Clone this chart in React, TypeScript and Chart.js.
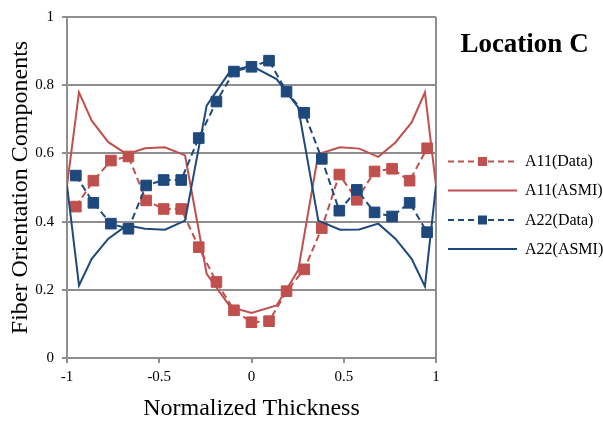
import React, { useEffect, useRef } from "react";
import { Chart, registerables } from "chart.js";

Chart.register(...registerables);

// ---- data ----
const dataX = [-0.952, -0.857, -0.762, -0.667, -0.571, -0.476, -0.381, -0.286, -0.19, -0.095, 0, 0.095, 0.19, 0.286, 0.381, 0.476, 0.571, 0.667, 0.762, 0.857, 0.952];
const a11Data = [0.444, 0.52, 0.579, 0.591, 0.462, 0.437, 0.437, 0.325, 0.223, 0.14, 0.105, 0.108, 0.196, 0.26, 0.381, 0.538, 0.464, 0.547, 0.555, 0.52, 0.615];
const a22Data = [0.535, 0.455, 0.394, 0.379, 0.506, 0.522, 0.522, 0.645, 0.752, 0.84, 0.854, 0.872, 0.781, 0.719, 0.584, 0.432, 0.493, 0.427, 0.415, 0.455, 0.369];
const asmiX = [-1, -0.935, -0.866, -0.776, -0.676, -0.577, -0.469, -0.36, -0.243, -0.115, 0, 0.136, 0.253, 0.362, 0.48, 0.584, 0.687, 0.78, 0.868, 0.94, 1];
const a11Asmi = [0.506, 0.779, 0.696, 0.633, 0.598, 0.615, 0.618, 0.594, 0.247, 0.15, 0.132, 0.154, 0.257, 0.598, 0.618, 0.614, 0.59, 0.632, 0.691, 0.779, 0.506];
const a22Asmi = [0.506, 0.213, 0.291, 0.35, 0.389, 0.379, 0.376, 0.403, 0.74, 0.842, 0.857, 0.818, 0.735, 0.403, 0.376, 0.377, 0.394, 0.35, 0.291, 0.21, 0.506];
const seriesNames = ["A11(Data)", "A11(ASMI)", "A22(Data)", "A22(ASMI)"];
const chartTitle = "Location C";
const xTitle = "Normalized Thickness";
const yTitle = "Fiber Orientation Components";

const RED = "#C0504D";
const BLUE = "#1F497D";
const GRID = "#8e8e8e";
const SERIF = "'Times New Roman', 'Liberation Serif', serif";
const DASH = [7, 4];

const pts = (xs: number[], ys: number[]) => xs.map((x, i) => ({ x, y: ys[i] }));

const overlayPlugin = {
  id: "overlay",
  afterDraw(chart: any) {
    const ctx = chart.ctx as CanvasRenderingContext2D;
    ctx.save();
    ctx.fillStyle = "#000";
    ctx.font = `bold 27px ${SERIF}`;
    ctx.textAlign = "center";
    ctx.textBaseline = "alphabetic";
    ctx.fillText(chartTitle, 524.5, 51.5);

    const items = [
      { color: RED, dashed: true },
      { color: RED, dashed: false },
      { color: BLUE, dashed: true },
      { color: BLUE, dashed: false },
    ];
    const ys = [161.5, 190.5, 220, 249];
    items.forEach((it, i) => {
      const y = ys[i];
      ctx.strokeStyle = it.color;
      ctx.lineWidth = 2;
      ctx.setLineDash(it.dashed ? [6, 4] : []);
      ctx.beginPath();
      ctx.moveTo(448, y);
      ctx.lineTo(517, y);
      ctx.stroke();
      ctx.setLineDash([]);
      if (it.dashed) {
        ctx.fillStyle = it.color;
        ctx.fillRect(482.5 - 4.5, y - 4.5, 9, 9);
      }
      ctx.fillStyle = "#000";
      ctx.font = `16px ${SERIF}`;
      ctx.textAlign = "left";
      ctx.textBaseline = "middle";
      ctx.fillText(seriesNames[i], 525, y + 0.5);
    });
    ctx.restore();
  },
};

export default function App() {
  const ref = useRef<HTMLCanvasElement | null>(null);
  useEffect(() => {
    if (!ref.current) return;
    const chart = new Chart(ref.current, {
      type: "scatter",
      data: {
        datasets: [
          {
            label: seriesNames[0],
            data: pts(dataX, a11Data),
            showLine: true,
            borderColor: RED,
            backgroundColor: RED,
            borderWidth: 2,
            borderDash: DASH,
            pointStyle: "rect",
            pointRadius: 7.5,
            pointBorderWidth: 1,
            pointBorderColor: RED,
            pointBackgroundColor: RED,
            order: 3,
          },
          {
            label: seriesNames[1],
            data: pts(asmiX, a11Asmi),
            showLine: true,
            borderColor: RED,
            backgroundColor: RED,
            borderWidth: 2,
            pointRadius: 0,
            order: 2,
          },
          {
            label: seriesNames[2],
            data: pts(dataX, a22Data),
            showLine: true,
            borderColor: BLUE,
            backgroundColor: BLUE,
            borderWidth: 2,
            borderDash: DASH,
            pointStyle: "rect",
            pointRadius: 7.5,
            pointBorderWidth: 1,
            pointBorderColor: BLUE,
            pointBackgroundColor: BLUE,
            order: 1,
          },
          {
            label: seriesNames[3],
            data: pts(asmiX, a22Asmi),
            showLine: true,
            borderColor: BLUE,
            backgroundColor: BLUE,
            borderWidth: 2,
            pointRadius: 0,
            order: 0,
          },
        ],
      },
      options: {
        animation: false,
        responsive: false,
        devicePixelRatio: 1,
        layout: { padding: { top: 16, right: 167, left: 0, bottom: 0 } },
        plugins: {
          legend: { display: false },
          tooltip: { enabled: false },
          title: { display: false },
        },
        scales: {
          x: {
            type: "linear",
            min: -1,
            max: 1,
            afterFit: (s: any) => {
              s.height = 63;
            },
            ticks: {
              stepSize: 0.5,
              color: "#000",
              padding: 5,
              font: { family: SERIF, size: 15 },
              callback: (v: any) => String(Math.round(Number(v) * 10) / 10),
            },
            grid: {
              color: (c: any) =>
                c.tick && (c.tick.value === -1 || c.tick.value === 1) ? GRID : "transparent",
              tickColor: GRID,
              tickLength: 5,
              lineWidth: 2,
            },
            border: { display: true, color: GRID, width: 2 },
            title: {
              display: true,
              text: xTitle,
              color: "#000",
              font: { family: SERIF, size: 24, lineHeight: 1 },
              padding: { top: 0, bottom: 0 },
            },
          },
          y: {
            type: "linear",
            min: 0,
            max: 1,
            afterFit: (s: any) => {
              s.width = 67;
            },
            ticks: {
              stepSize: 0.2,
              color: "#000",
              padding: 8,
              font: { family: SERIF, size: 15 },
              callback: (v: any) => String(Math.round(Number(v) * 10) / 10),
            },
            grid: {
              color: GRID,
              tickColor: GRID,
              tickLength: 5,
              lineWidth: 2,
            },
            border: { display: true, color: GRID, width: 2 },
            title: {
              display: true,
              text: yTitle,
              color: "#000",
              font: { family: SERIF, size: 24, lineHeight: 1 },
              padding: { top: 9, bottom: 0 },
            },
          },
        },
      },
      plugins: [overlayPlugin],
    } as any);
    return () => chart.destroy();
  }, []);
  return (
    <div style={{ position: "absolute", left: 0, top: 0, width: 603, height: 421, background: "#fff" }}>
      <canvas ref={ref} width={603} height={421} style={{ display: "block", width: 603, height: 421 }} />
    </div>
  );
}
